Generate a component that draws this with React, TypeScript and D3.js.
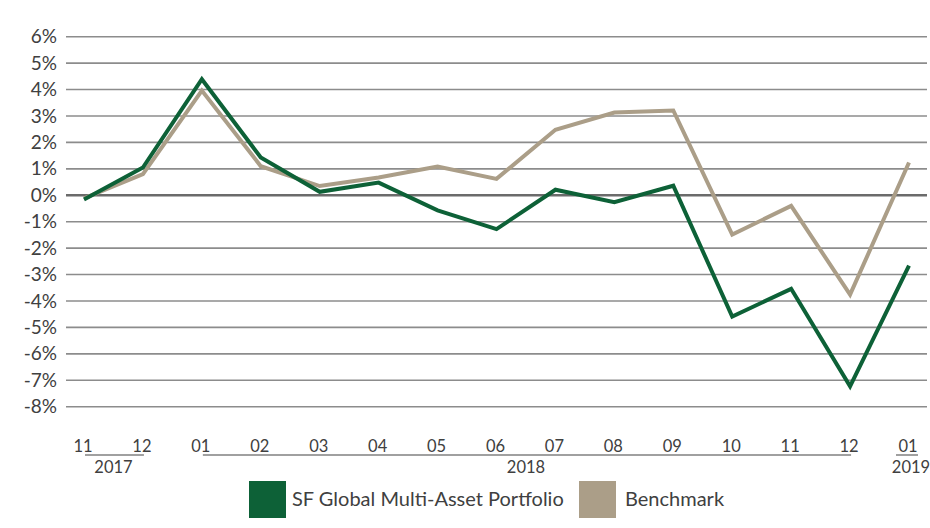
import React from "react";
import * as d3 from "d3";

const months = ["11", "12", "01", "02", "03", "04", "05", "06", "07", "08", "09", "10", "11", "12", "01"];
const portfolio = [-0.16, 1.05, 4.39, 1.43, 0.13, 0.48, -0.57, -1.28, 0.21, -0.26, 0.36, -4.59, -3.54, -7.23, -2.66];
const benchmark = [-0.12, 0.8, 3.96, 1.1, 0.35, 0.67, 1.09, 0.62, 2.48, 3.13, 3.21, -1.49, -0.4, -3.76, 1.24];
const yTicks = [6, 5, 4, 3, 2, 1, 0, -1, -2, -3, -4, -5, -6, -7, -8];
const years = [
  { label: "2017", start: 0, end: 1 },
  { label: "2018", start: 2, end: 13 },
  { label: "2019", start: 14, end: 14 },
];
const seriesNames = ["SF Global Multi-Asset Portfolio", "Benchmark"];
const colors = ["#0d6137", "#ab9e88"];

const W = 930;
const H = 528;
const FONT = "Lato, 'Open Sans', sans-serif";

export default function App() {
  const idx = months.map((_, i) => i);
  const x = d3.scalePoint<number>().domain(idx).range([84, 909]);
  const y = d3.scaleLinear().domain([-8, 6]).range([406.7, 36.7]);
  const line = d3
    .line<number>()
    .x((_, i) => x(i) as number)
    .y((d) => y(d));

  const gridX0 = 66;
  const gridX1 = 927;

  return (
    <svg width={W} height={H} style={{ position: "absolute", left: 0, top: 0, background: "#fff" }}>
      {yTicks.map((t) => (
        <g key={t}>
          <line
            x1={gridX0}
            x2={gridX1}
            y1={y(t)}
            y2={y(t)}
            stroke={t === 0 ? "#6b6b6b" : "#8c8c8c"}
            strokeWidth={t === 0 ? 2.5 : 1.6}
          />
          <text
            x={57}
            y={y(t)}
            dy="0.35em"
            textAnchor="end"
            fontFamily={FONT}
            fontSize={19}
            fill="#404040"
          >
            {`${t}%`}
          </text>
        </g>
      ))}
      <path d={line(benchmark) || ""} fill="none" stroke={colors[1]} strokeWidth={4} />
      <path d={line(portfolio) || ""} fill="none" stroke={colors[0]} strokeWidth={4} />
      {months.map((m, i) => (
        <text
          key={i}
          x={(x(i) as number) - 1}
          y={452}
          textAnchor="middle"
          fontFamily={FONT}
          fontSize={16.5}
          fill="#404040"
        >
          {m}
        </text>
      ))}
      {years.map((yr) => {
        const a = x(yr.start) as number;
        const b = x(yr.end) as number;
        const single = yr.start === yr.end;
        return (
          <g key={yr.label}>
            <line
              x1={single ? a - 13 : a + 1}
              x2={single ? b + 9 : b + 1}
              y1={455}
              y2={455}
              stroke="#808080"
              strokeWidth={1.5}
            />
            <text
              x={(a + b) / 2 + (single ? 2 : 0)}
              y={473}
              textAnchor="middle"
              fontFamily={FONT}
              fontSize={16.5}
              fill="#404040"
            >
              {yr.label}
            </text>
          </g>
        );
      })}
      <rect x={249} y={481} width={37} height={37} fill={colors[0]} />
      <text x={292} y={506} fontFamily={FONT} fontSize={20} fill="#404040">
        {seriesNames[0]}
      </text>
      <rect x={579} y={481} width={37} height={37} fill={colors[1]} />
      <text x={625} y={506} fontFamily={FONT} fontSize={20} fill="#404040">
        {seriesNames[1]}
      </text>
    </svg>
  );
}
